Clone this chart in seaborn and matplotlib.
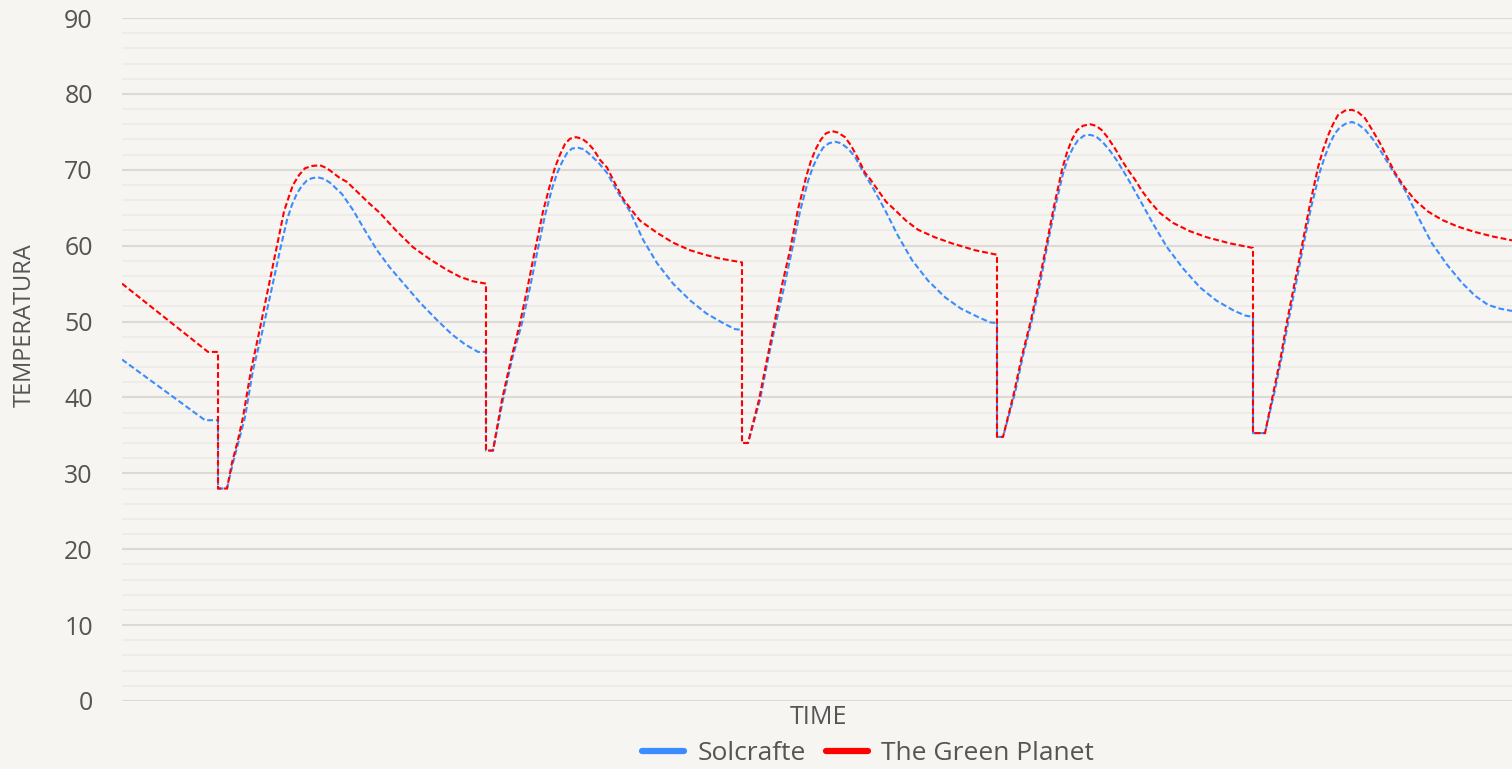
import numpy as np
import pandas as pd
import seaborn as sns
import matplotlib.pyplot as plt
from matplotlib.lines import Line2D

# time values (arbitrary units along the x axis) and temperatures
t_sol = [0, 83, 96, 96, 105,
         111, 117, 123, 131, 140, 151, 158, 165, 170, 175, 180, 185, 190, 196, 202, 208, 220, 231, 243, 255,
         268, 281, 298, 315, 330, 343, 356, 364, 364, 371,
         381, 390, 400, 408, 415, 423, 430, 435, 440, 445, 450, 456, 462, 468, 476, 485, 496, 508, 521, 535,
         551, 568, 584, 601, 613, 620, 620, 626,
         638, 646, 653, 662, 670, 678, 686, 691, 696, 701, 707, 713, 719, 726, 733, 740, 751, 763, 776, 790,
         806, 823, 839, 856, 868, 875, 875, 881,
         893, 901, 910, 918, 925, 933, 941, 946, 951, 956, 962, 968, 974, 981, 988, 995, 1006, 1018, 1031, 1045,
         1061, 1078, 1094, 1111, 1123, 1131, 1131, 1143,
         1153, 1160, 1166, 1174, 1181, 1189, 1198, 1203, 1208, 1213, 1218, 1224, 1230, 1236, 1243, 1251, 1260,
         1271, 1283, 1296, 1310, 1325, 1340, 1353, 1366, 1378, 1390]
temp_sol = [45, 37, 37, 28, 28,
            31.4, 34.4, 37.4, 43.6, 48.5, 55.1, 59.4, 63.4, 65.4, 66.9, 67.9, 68.6, 68.9, 69.0, 68.8, 68.3, 66.8, 64.7, 62.0, 59.4,
            57.1, 55.1, 52.5, 50.2, 48.3, 47.0, 46.0, 46.0, 33.0, 33.0,
            39.7, 45.0, 49.8, 54.5, 59.0, 64.0, 67.5, 69.5, 71.0, 72.2, 72.8, 72.9, 72.7, 72.0, 71.0, 69.6, 67.0, 64.5, 60.8, 57.7,
            55.0, 52.8, 51.1, 49.8, 49.0, 48.9, 34.0, 34.0,
            39.7, 45.0, 49.3, 54.5, 59.4, 64.5, 68.5, 70.4, 71.8, 72.9, 73.5, 73.7, 73.5, 72.8, 71.7, 70.0, 67.6, 64.7, 61.3, 58.1,
            55.4, 53.2, 51.7, 50.6, 49.9, 49.8, 34.8, 34.8,
            40.6, 45.5, 50.2, 55.0, 59.8, 65.0, 69.5, 71.5, 72.9, 73.9, 74.5, 74.6, 74.4, 73.6, 72.5, 71.2, 68.8, 66.0, 62.9, 59.8,
            57.0, 54.5, 52.8, 51.5, 50.8, 50.6, 35.3, 35.3,
            41.0, 45.5, 49.8, 55.0, 59.8, 65.0, 69.8, 71.8, 73.5, 74.8, 75.6, 76.1, 76.3, 76.0, 75.3, 74.0, 72.2,
            69.8, 67.3, 63.8, 60.3, 57.5, 55.1, 53.4, 52.2, 51.7, 51.4]

t_green = [0, 86, 96, 96, 105,
           110, 116, 121, 129, 137, 148, 155, 162, 167, 171, 177, 183, 190, 198, 205, 211, 218, 225, 236, 247,
           258, 274, 291, 308, 325, 338, 351, 364, 364, 371,
           380, 389, 398, 406, 413, 421, 428, 433, 438, 443, 448, 454, 460, 466, 472, 478, 485, 493, 501, 510,
           518, 535, 551, 568, 583, 598, 620, 620, 626,
           637, 645, 652, 660, 668, 676, 684, 689, 694, 699, 704, 710, 716, 723, 729, 736, 743, 748, 756, 764,
           773, 784, 796, 813, 830, 853, 875, 875, 881,
           892, 900, 909, 917, 924, 932, 940, 945, 950, 955, 961, 968, 974, 980, 986, 993, 1000, 1006, 1013, 1020,
           1028, 1038, 1051, 1068, 1085, 1108, 1131, 1131, 1143,
           1152, 1159, 1165, 1173, 1180, 1188, 1196, 1201, 1206, 1211, 1216, 1223, 1230, 1236, 1243, 1250, 1258,
           1266, 1273, 1283, 1293, 1306, 1320, 1336, 1353, 1371, 1390]
temp_green = [55, 46, 46, 28, 28,
              31.4, 34.4, 37.4, 43.6, 48.5, 55.5, 60.0, 64.5, 66.5, 68.0, 69.3, 70.2, 70.5, 70.6, 70.2, 69.6, 68.9, 68.4, 67.0, 65.6,
              64.3, 62.0, 59.8, 58.2, 56.8, 55.9, 55.3, 55.0, 33.0, 33.0,
              39.7, 45.0, 49.8, 54.8, 59.4, 64.5, 68.0, 70.3, 72.0, 73.4, 74.1, 74.3, 74.1, 73.5, 72.6, 71.3, 70.3, 68.2, 66.2, 64.6,
              63.3, 61.7, 60.4, 59.4, 58.8, 58.3, 57.8, 34.0, 34.0,
              39.7, 45.0, 49.5, 54.8, 59.4, 64.8, 69.0, 71.2, 72.8, 74.0, 74.8, 75.1, 74.9, 74.3, 73.2, 71.5, 69.6, 68.8, 67.3, 65.8,
              64.7, 63.3, 62.1, 61.1, 60.3, 59.4, 58.8, 34.8, 34.8,
              40.6, 45.5, 50.2, 55.2, 59.8, 65.2, 70.0, 72.3, 74.0, 75.2, 75.8, 76.0, 75.8, 75.2, 74.2, 72.8, 71.2, 70.0, 68.7, 67.2,
              65.8, 64.3, 63.0, 61.9, 61.1, 60.3, 59.7, 35.3, 35.3,
              41.0, 45.5, 50.0, 55.3, 60.0, 65.5, 70.3, 72.6, 74.5, 76.0, 77.2, 77.8, 77.9, 77.6, 76.8, 75.3, 73.5,
              71.4, 69.6, 67.6, 66.0, 64.5, 63.4, 62.5, 61.8, 61.2, 60.7]

series_names = ["Solcrafte", "The Green Planet"]
colors = ["#3a8cff", "#ff0000"]
y_ticks = [0, 10, 20, 30, 40, 50, 60, 70, 80, 90]

df = pd.concat([
    pd.DataFrame({"time": t_sol, "temp": temp_sol, "serie": series_names[0]}),
    pd.DataFrame({"time": t_green, "temp": temp_green, "serie": series_names[1]}),
], ignore_index=True)

bg = "#f7f5f1"
sns.set_theme(style="white")
plt.rcParams["font.family"] = ["Open Sans", "DejaVu Sans"]

fig = plt.figure(figsize=(15.12, 7.69), dpi=100, facecolor=bg)
ax = fig.add_axes([122 / 1512, 1 - 701 / 769, 1 - 122 / 1512, (701 - 18) / 769])
ax.set_facecolor(bg)

# faint paper lines + main grid
for v in np.arange(0, 91, 2):
    ax.axhline(v, color="#eeece8", lw=1.3, zorder=0)
for v in y_ticks:
    ax.axhline(v, color="#dcdad6", lw=1.5, zorder=0.5)

sns.lineplot(data=df, x="time", y="temp", hue="serie", palette=colors,
             estimator=None, sort=False, legend=False, ax=ax, lw=1.5)
for ln in ax.lines[-2:]:
    ln.set_dashes((2.8, 1.4))

ax.set_xlim(0, 1390)
ax.set_ylim(0, 90)
ax.set_yticks(y_ticks)
ax.set_xticks([])
ax.tick_params(axis="y", length=0, pad=21, labelsize=18, labelcolor="#555555")
for s in ax.spines.values():
    s.set_visible(False)
ax.set_xlabel("")
ax.set_ylabel("")
ax.grid(False)

fig.text(818 / 1512, 1 - 718 / 769, "TIME", ha="center", va="center",
         fontsize=18, color="#555555")
fig.text(25 / 1512, 1 - 325 / 769, "TEMPERATURA", ha="center", va="center",
         rotation=90, fontsize=17, color="#555555")

handles = [Line2D([], [], color=c, lw=4.5) for c in colors]
fig.legend(handles, series_names, loc="center", ncol=2, frameon=False,
           bbox_to_anchor=(868 / 1512, 1 - 754 / 769), fontsize=19,
           handlelength=1.6, columnspacing=0.75, handletextpad=0.5,
           labelcolor="#555555")

fig.savefig("out.png", dpi=100, facecolor=bg)
